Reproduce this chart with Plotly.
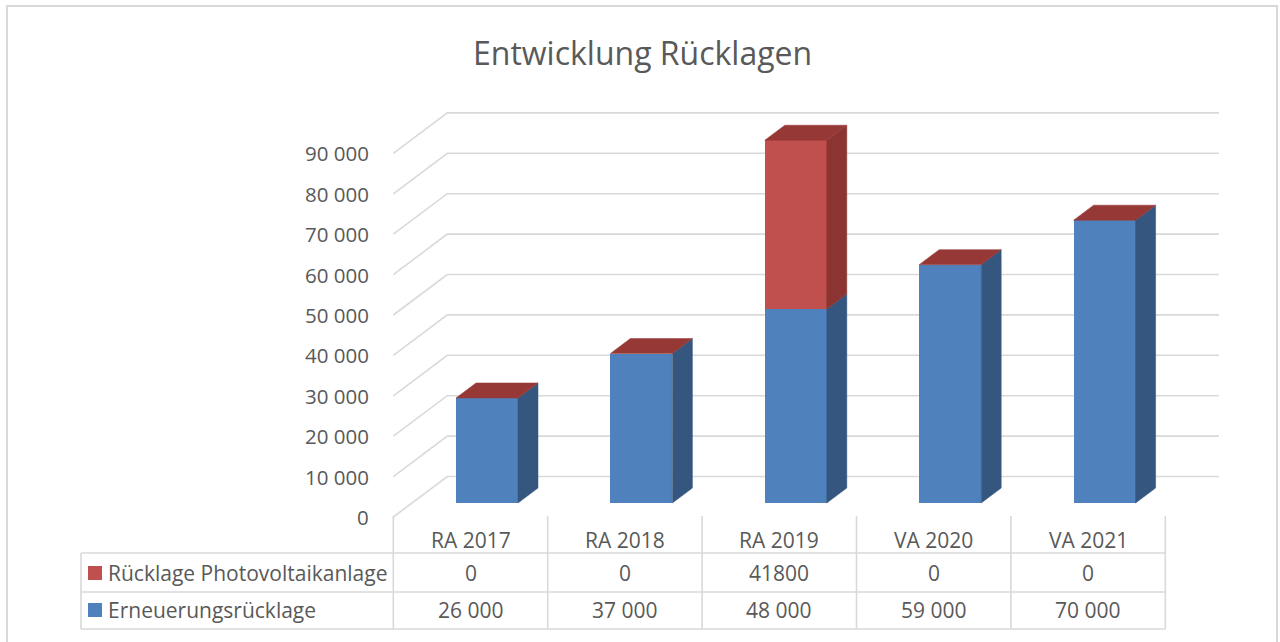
import plotly.graph_objects as go

# ---------------- data ----------------
categories = ["RA 2017", "RA 2018", "RA 2019", "VA 2020", "VA 2021"]
series_names = ["Erneuerungsrücklage", "Rücklage Photovoltaikanlage"]
erneuerung = [26000, 37000, 48000, 59000, 70000]
photovoltaik = [0, 0, 41800, 0, 0]
table_photovoltaik = ["0", "0", "41800", "0", "0"]
table_erneuerung = ["26 000", "37 000", "48 000", "59 000", "70 000"]
y_ticks = [0, 10000, 20000, 30000, 40000, 50000, 60000, 70000, 80000, 90000]
y_tick_labels = ["0", "10 000", "20 000", "30 000", "40 000", "50 000",
                 "60 000", "70 000", "80 000", "90 000"]
title_text = "Entwicklung Rücklagen"

# ---------------- style ----------------
W, H = 1280, 642
FONT = "Open Sans"
TXT = "#595959"
GRID = "#D9D9D9"
front_col = ["#4F81BD", "#C0504D"]
side_col = ["#34567F", "#8B3432"]
top_col = "#963836"

COLW = 154.4          # px per category
K = 0.00404           # px per value unit
BASE_PX = 503         # px of value 0 on bar front plane
CX0 = 470.5           # px of first category centre
XA = -CX0 / COLW
XB = XA + W / COLW
YMAX = BASE_PX / K
YMIN = -(H - BASE_PX) / K


def dx(px):
    return px / COLW


def dy(px):
    return px / K


def py(px):
    return 1 - px / H


BAR_SHIFT = dx(16.5)
BAR_W = dx(62)
SDX, SDY = dx(20), dy(15)
FRONT_X, FRONT_DY = -0.5, -dy(14)
BACK_X, BACK_DY = -0.5 + dx(54), dy(26.5)
GRID_END = (1219 - CX0) / COLW

fig = go.Figure()
shapes = []

# gridlines (side wall diagonals + back wall), below traces
for v in y_ticks:
    shapes.append(dict(type="path", xref="x", yref="y", layer="below",
                       path=f"M{FRONT_X},{v + FRONT_DY} L{BACK_X},{v + BACK_DY} "
                            f"L{GRID_END},{v + BACK_DY}",
                       line=dict(color=GRID, width=1.6)))

xs = [i + BAR_SHIFT for i in range(len(categories))]

# front faces
for name, vals, col in zip(series_names, [erneuerung, photovoltaik], front_col):
    fig.add_trace(go.Bar(
        x=xs, y=vals, width=BAR_W, name=name,
        marker=dict(color=col, line=dict(width=0)),
        hoverinfo="skip", showlegend=False))


def poly(px, pyv, col):
    fig.add_trace(go.Scatter(
        x=px + [px[0]], y=pyv + [pyv[0]], mode="lines", fill="toself",
        fillcolor=col, line=dict(color=col, width=0.5),
        hoverinfo="skip", showlegend=False))


# side and top faces
for i in range(len(categories)):
    xl = xs[i] - BAR_W / 2
    xr = xs[i] + BAR_W / 2
    b = 0
    for s, vals in enumerate([erneuerung, photovoltaik]):
        t = b + vals[i]
        if vals[i] > 0:
            poly([xr, xr + SDX, xr + SDX, xr],
                 [b, b + SDY, t + SDY, t], side_col[s])
        b = t
    T = b
    poly([xl, xl + SDX, xr + SDX, xr], [T, T + SDY, T + SDY, T], top_col)

annotations = []
# y tick labels on front plane
for v, lab in zip(y_ticks, y_tick_labels):
    annotations.append(dict(
        x=FRONT_X - dx(22), y=v + FRONT_DY, xref="x", yref="y",
        text=lab, showarrow=False, xanchor="right", yanchor="middle",
        font=dict(family=FONT, size=20.5, color=TXT)))

# title
annotations.append(dict(
    x=642 / W, y=py(52), xref="paper", yref="paper", text=title_text,
    showarrow=False, xanchor="center", yanchor="middle",
    font=dict(family=FONT, size=32, color=TXT)))

# data table
TS = 21
row_y = [540, 573, 610]
for i, cat in enumerate(categories):
    annotations.append(dict(x=i, y=py(row_y[0]), xref="x", yref="paper",
                            text=cat, showarrow=False, xanchor="center",
                            yanchor="middle",
                            font=dict(family=FONT, size=TS, color=TXT)))
    annotations.append(dict(x=i, y=py(row_y[1]), xref="x", yref="paper",
                            text=table_photovoltaik[i], showarrow=False,
                            xanchor="center", yanchor="middle",
                            font=dict(family=FONT, size=TS, color=TXT)))
    annotations.append(dict(x=i, y=py(row_y[2]), xref="x", yref="paper",
                            text=table_erneuerung[i], showarrow=False,
                            xanchor="center", yanchor="middle",
                            font=dict(family=FONT, size=TS, color=TXT)))

for ry, name in [(row_y[1], series_names[1]), (row_y[2], series_names[0])]:
    annotations.append(dict(x=106 / W, y=py(ry), xref="paper", yref="paper",
                            text=name, showarrow=False, xanchor="left",
                            yanchor="middle",
                            font=dict(family=FONT, size=TS, color=TXT)))

# legend keys
for ry, col in [(row_y[1], front_col[1]), (row_y[2], front_col[0])]:
    shapes.append(dict(type="rect", xref="paper", yref="paper",
                       x0=88 / W, x1=102 / W, y0=py(ry + 7), y1=py(ry - 7),
                       fillcolor=col, line=dict(width=0)))

# table lines
for ly in [553, 592, 629]:
    shapes.append(dict(type="line", xref="paper", yref="paper",
                       x0=81 / W, x1=(CX0 + 4.5 * COLW) / W,
                       y0=py(ly), y1=py(ly),
                       line=dict(color=GRID, width=1.6)))
shapes.append(dict(type="line", xref="paper", yref="paper",
                   x0=81 / W, x1=81 / W, y0=py(553), y1=py(629),
                   line=dict(color=GRID, width=1.6)))
for j in range(len(categories) + 1):
    shapes.append(dict(type="line", xref="x", yref="paper",
                       x0=j - 0.5, x1=j - 0.5, y0=py(516), y1=py(629),
                       line=dict(color=GRID, width=1.6)))

# outer border
shapes.append(dict(type="rect", xref="paper", yref="paper",
                   x0=7 / W, x1=1277 / W, y0=py(646), y1=py(6),
                   line=dict(color=GRID, width=2), fillcolor="rgba(0,0,0,0)"))

fig.update_layout(
    width=W, height=H, margin=dict(l=0, r=0, t=0, b=0),
    paper_bgcolor="white", plot_bgcolor="white",
    barmode="stack", bargap=0,
    xaxis=dict(range=[XA, XB], visible=False, fixedrange=True),
    yaxis=dict(range=[YMIN, YMAX], visible=False, fixedrange=True),
    annotations=annotations, shapes=shapes, showlegend=False,
)

fig.write_html("out.html", config={"displayModeBar": False},
               post_script="document.body.style.margin='0';"
                           "document.body.style.overflow='hidden';")
